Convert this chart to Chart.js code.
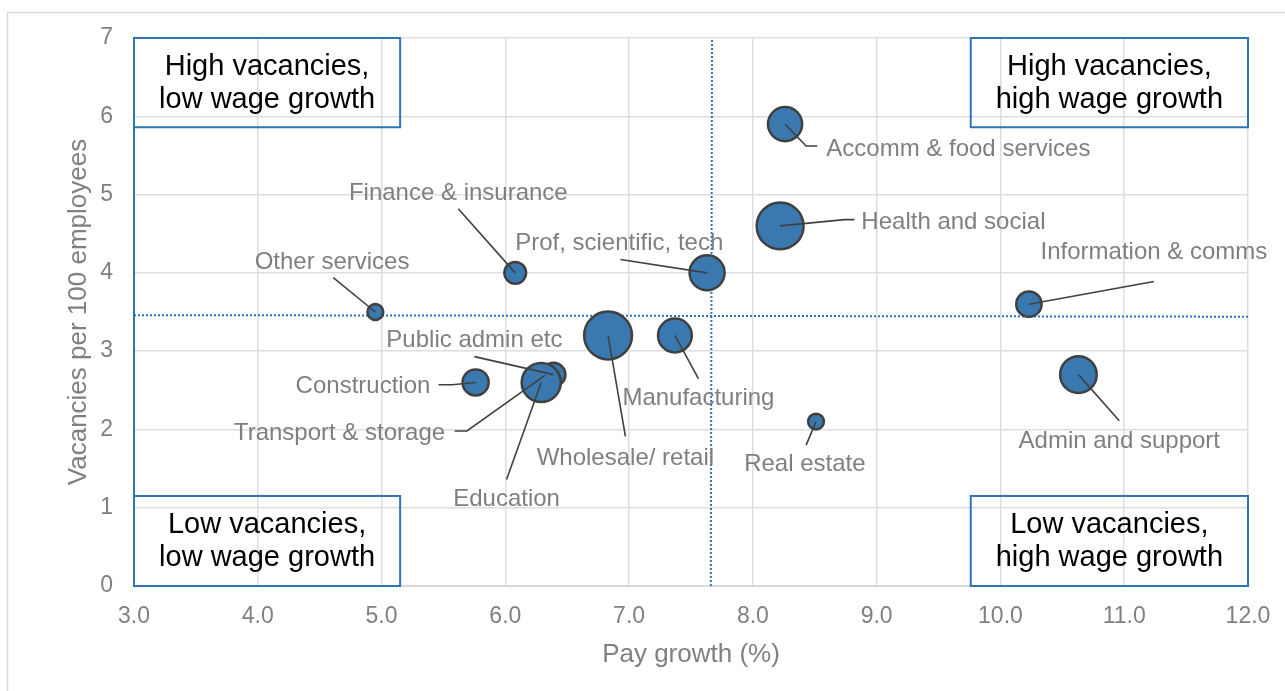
<!DOCTYPE html>
<html>
<head>
<meta charset="utf-8">
<script src="https://cdn.jsdelivr.net/npm/chart.js@4.4.1/dist/chart.umd.min.js"></script>
<style>
  body { margin: 0; background: #fff; }
</style>
</head>
<body>
<canvas id="myChart" width="1285" height="691"></canvas>
<script>
// data
const sectors = ["Accomm & food services", "Health and social", "Information & comms", "Admin and support",
  "Real estate", "Prof, scientific, tech", "Finance & insurance", "Other services", "Wholesale/ retail",
  "Manufacturing", "Public admin etc", "Transport & storage", "Education", "Construction"];
const payGrowth = [8.26, 8.22, 10.23, 10.63, 8.51, 7.63, 6.08, 4.95, 6.83, 7.37, 6.39, 6.32, 6.29, 5.76];
const vacancies = [5.9, 4.6, 3.6, 2.7, 2.1, 4.0, 4.0, 3.5, 3.2, 3.2, 2.7, 2.69, 2.6, 2.6];
const employment = [2.1, 3.95, 1.15, 2.4, 0.45, 2.2, 0.85, 0.45, 4.1, 2.05, 1.0, 0.9, 2.75, 1.22]; // millions
const avgVacX = [3, 12];
const avgVacY = [3.46, 3.44];
const avgPayX = [7.66, 7.67];
const avgPayY = [0, 7];
const xTicks = [3, 4, 5, 6, 7, 8, 9, 10, 11, 12];
const yTicks = [0, 1, 2, 3, 4, 5, 6, 7];
const quadrantText = [
  ["High vacancies,", "low wage growth"],
  ["High vacancies,", "high wage growth"],
  ["Low vacancies,", "low wage growth"],
  ["Low vacancies,", "high wage growth"]
];

// where labels and boxes sit (data units)
const labelLayout = [
  { tx: 9.66, ty: 5.58, path: [[8.43, 5.62], [8.52, 5.62]] },
  { tx: 9.62, ty: 4.65, path: [[8.74, 4.68], [8.82, 4.68]] },
  { tx: 11.24, ty: 4.26, path: [[11.24, 3.89]] },
  { tx: 10.96, ty: 1.85, path: [[10.96, 2.11]] },
  { tx: 8.42, ty: 1.55, path: [[8.43, 1.80]] },
  { tx: 6.92, ty: 4.38, path: [[6.93, 4.17]] },
  { tx: 5.62, ty: 5.02, path: [[5.62, 4.82]] },
  { tx: 4.60, ty: 4.14, path: [[4.61, 3.94]] },
  { tx: 6.97, ty: 1.63, path: [[6.97, 1.91]] },
  { tx: 7.56, ty: 2.40, path: [[7.56, 2.65]] },
  { tx: 5.75, ty: 3.14, path: [[5.75, 2.93]] },
  { tx: 4.66, ty: 1.95, path: [[5.69, 1.98], [5.59, 1.98]] },
  { tx: 6.01, ty: 1.11, path: [[6.01, 1.36]] },
  { tx: 4.85, ty: 2.55, path: [[5.57, 2.57], [5.46, 2.57]] }
];
const boxLayout = [
  { x0: 3, x1: 5.15, y0: 5.86, y1: 7 },
  { x0: 9.76, x1: 12, y0: 5.86, y1: 7 },
  { x0: 3, x1: 5.15, y0: 0, y1: 1.15 },
  { x0: 9.76, x1: 12, y0: 0, y1: 1.15 }
];

const FONT = "'Liberation Sans', Arial, sans-serif";

const bubbles = sectors.map((s, i) => ({
  x: payGrowth[i],
  y: vacancies[i],
  r: Math.sqrt(employment[i]) * 11.8
}));

const annotate = {
  id: "annotate",
  beforeDraw(chart) {
    const c = chart.ctx;
    c.save();
    c.fillStyle = "#fff";
    c.fillRect(0, 0, chart.width, chart.height);
    c.strokeStyle = "#d9d9d9";
    c.lineWidth = 1.5;
    c.strokeRect(7.5, 12.5, chart.width + 40, chart.height + 40);
    c.restore();
  },
  afterDatasetsDraw(chart) {
    const c = chart.ctx;
    const xs = chart.scales.x, ys = chart.scales.y;
    c.save();

    // quadrant boxes
    c.strokeStyle = "#2e75b6";
    c.lineWidth = 2;
    c.fillStyle = "#000";
    c.font = "29px " + FONT;
    c.textAlign = "center";
    c.textBaseline = "middle";
    boxLayout.forEach((b, i) => {
      const l = xs.getPixelForValue(b.x0), r = xs.getPixelForValue(b.x1);
      const t = ys.getPixelForValue(b.y1), bt = ys.getPixelForValue(b.y0);
      c.strokeRect(l, t, r - l, bt - t);
      const cx = (l + r) / 2, cy = (t + bt) / 2;
      c.fillText(quadrantText[i][0], cx, cy - 16);
      c.fillText(quadrantText[i][1], cx, cy + 17);
    });

    // leader lines
    c.strokeStyle = "#404040";
    c.lineWidth = 1.6;
    labelLayout.forEach((lab, i) => {
      c.beginPath();
      c.moveTo(xs.getPixelForValue(payGrowth[i]), ys.getPixelForValue(vacancies[i]));
      lab.path.forEach(p => c.lineTo(xs.getPixelForValue(p[0]), ys.getPixelForValue(p[1])));
      c.stroke();
    });

    // labels
    c.fillStyle = "#7f7f7f";
    c.font = "24px " + FONT;
    labelLayout.forEach((lab, i) => {
      c.fillText(sectors[i], xs.getPixelForValue(lab.tx), ys.getPixelForValue(lab.ty));
    });
    c.restore();
  }
};

const ctx = document.getElementById("myChart").getContext("2d");
new Chart(ctx, {
  type: "bubble",
  data: {
    datasets: [
      {
        data: bubbles,
        backgroundColor: "#3a78b0",
        borderColor: "#404040",
        borderWidth: 2.5,
        order: 0
      },
      {
        type: "line",
        data: avgVacX.map((x, i) => ({ x: x, y: avgVacY[i] })),
        borderColor: "#2e75b6",
        borderWidth: 2,
        borderDash: [2, 2],
        pointRadius: 0,
        fill: false,
        order: 1
      },
      {
        type: "line",
        data: avgPayX.map((x, i) => ({ x: x, y: avgPayY[i] })),
        borderColor: "#2e75b6",
        borderWidth: 2,
        borderDash: [2, 2],
        pointRadius: 0,
        fill: false,
        order: 1
      }
    ]
  },
  options: {
    responsive: false,
    animation: false,
    events: [],
    layout: { padding: { left: 0, right: 37, top: 38, bottom: 0 } },
    plugins: {
      legend: { display: false },
      tooltip: { enabled: false }
    },
    scales: {
      x: {
        type: "linear",
        min: 3,
        max: 12,
        afterBuildTicks: s => { s.ticks = xTicks.map(v => ({ value: v })); },
        afterFit: s => { s.height = 105; s.paddingRight = 0; s.paddingLeft = 0; },
        grid: { color: "#dedede", lineWidth: 1.5, drawTicks: false },
        border: { color: "#d9d9d9", width: 2 },
        ticks: {
          padding: 17,
          color: "#808080",
          font: { family: FONT, size: 23 },
          callback: v => v.toFixed(1)
        },
        title: {
          display: true,
          text: "Pay growth (%)",
          color: "#808080",
          font: { family: FONT, size: 26 },
          padding: { top: 0, bottom: 21 }
        }
      },
      y: {
        type: "linear",
        min: 0,
        max: 7,
        afterBuildTicks: s => { s.ticks = yTicks.map(v => ({ value: v })); },
        afterFit: s => { s.width = 134; },
        grid: { color: "#dedede", lineWidth: 1.5, drawTicks: false },
        border: { color: "#2e75b6", width: 2 },
        ticks: {
          padding: 21,
          color: "#808080",
          font: { family: FONT, size: 23 }
        },
        title: {
          display: true,
          text: "Vacancies per 100 employees",
          color: "#808080",
          font: { family: FONT, size: 26 },
          padding: { top: 63, bottom: 0 }
        }
      }
    }
  },
  plugins: [annotate]
});
</script>
</body>
</html>
